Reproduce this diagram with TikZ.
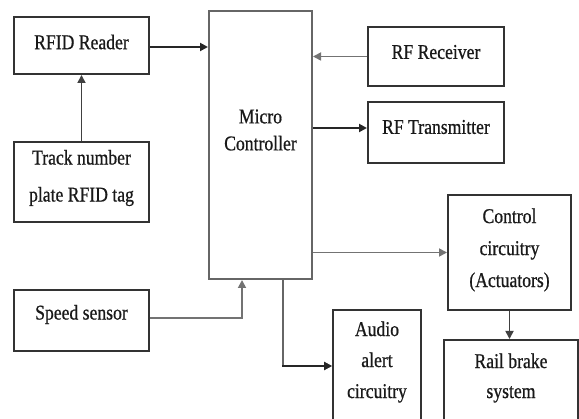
\documentclass[tikz,border=0pt]{standalone}
\usepackage{fontspec}
\setmainfont{Liberation Serif}[FakeStretch=0.84,FakeBold=0.7]
\usetikzlibrary{arrows.meta}
\begin{document}
\begin{tikzpicture}[x=1pt,y=-1pt,
  box/.style={draw=black!80,line width=2pt,inner sep=0pt},
  lbl/.style={inner sep=0pt,align=center,text=black!90,font=\fontsize{21}{31}\selectfont},
  thin/.style={draw=black!55,line width=1.7pt,-{Triangle[length=8pt,width=8pt]}},
  thick/.style={draw=black!85,line width=2.4pt,-{Triangle[length=8pt,width=8pt]}}]
\useasboundingbox (0,0) rectangle (579,419);
\clip (0,0) rectangle (579,419);
\node[box,minimum width=135pt,minimum height=57pt] (rfid) at (81.5,45.5) {};
\node[box,minimum width=135pt,minimum height=80pt] (track) at (81.5,182) {};
\node[box,minimum width=135pt,minimum height=61pt] (speed) at (81.5,320.5) {};
\node[box,draw=black!60,minimum width=103pt,minimum height=268pt] (mc) at (260.5,145) {};
\node[box,minimum width=136pt,minimum height=59pt] (rx) at (436,56.5) {};
\node[box,minimum width=136pt,minimum height=61pt] (tx) at (436,132.5) {};
\node[box,minimum width=123pt,minimum height=115pt] (ctrl) at (509.5,252.5) {};
\node[box,minimum width=88pt,minimum height=112pt] (audio) at (377,366) {};
\node[box,minimum width=134pt,minimum height=82pt] (rail) at (511,381) {};
\node[lbl] (rfid-t) at ([yshift=3.5pt]rfid.center) {RFID Reader};
\node[lbl,font=\fontsize{21}{37}\selectfont] (track-t) at ([yshift=4pt]track.center) {Track number\\plate RFID tag};
\node[lbl] (speed-t) at ([yshift=6pt]speed.center) {Speed sensor};
\node[lbl,font=\fontsize{21}{27}\selectfont] (mc-t) at ([yshift=15pt]mc.center) {Micro\\Controller};
\node[lbl] (rx-t) at ([yshift=4.5pt]rx.center) {RF Receiver};
\node[lbl] (tx-t) at ([yshift=5.5pt]tx.center) {RF Transmitter};
\node[lbl,font=\fontsize{21}{32}\selectfont] (ctrl-t) at ([yshift=2.5pt]ctrl.center) {Control\\circuitry\\(Actuators)};
\node[lbl,font=\fontsize{21}{31}\selectfont] (audio-t) at ([yshift=4pt]audio.center) {Audio\\alert\\circuitry};
\node[lbl,font=\fontsize{21}{30}\selectfont] (rail-t) at ([yshift=3pt]rail.center) {Rail brake\\system};
\draw[thick] ([yshift=-1.5pt]rfid.east) -- ([yshift=-1.5pt]rfid.east -| mc.west);
\draw[thin,draw=black!75] (track.north) -- (rfid.south);
\draw[thin] (rx.west) -- (rx.west -| mc.east);
\draw[thick,line width=2pt] ([yshift=4.5pt]tx.west -| mc.east) -- ([yshift=4.5pt]tx.west);
\draw[thin] (ctrl.west -| mc.east) -- (ctrl.west);
\draw[thin] ([yshift=2.5pt]speed.east) -| ([xshift=-18.5pt]mc.south);
\draw[thin,draw=black!60] ([xshift=22.5pt]mc.south) |- (audio.west);
\draw[thick,line width=2pt] (audio.west) ++(-50pt,0) coordinate (ah) -- (audio.west);
\draw[thin,draw=black!75] (ctrl.south) -- (ctrl.south |- rail.north);
\end{tikzpicture}
\end{document}
